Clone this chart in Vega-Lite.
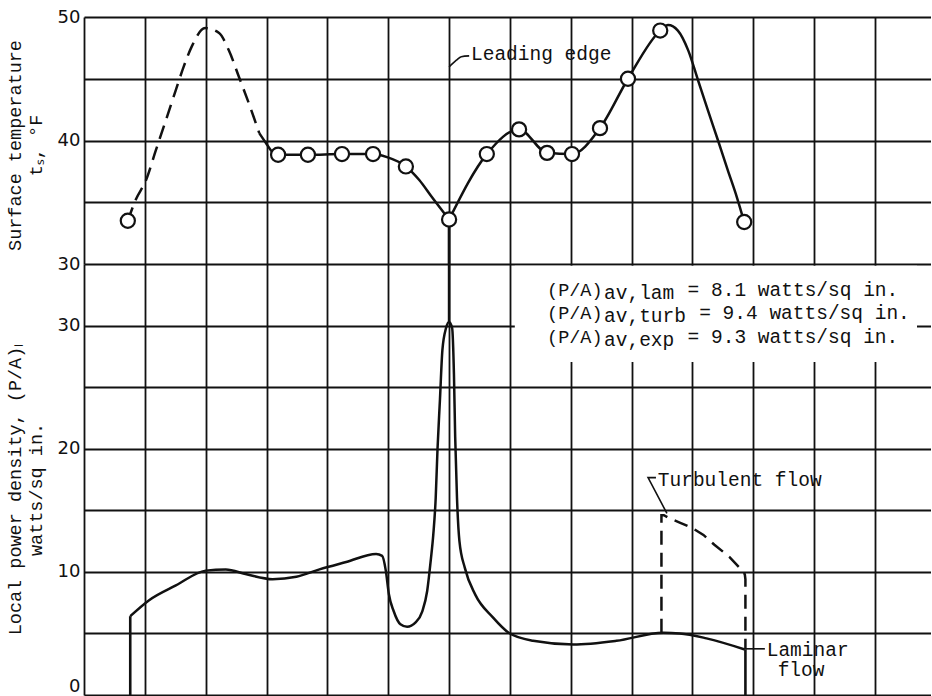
{
  "$schema": "https://vega.github.io/schema/vega-lite/v6.json",
  "background": "white",
  "padding": {"left": 5, "top": 8, "right": 0, "bottom": 1},
  "spacing": 0,
  "bounds": "flush",
  "config": {
    "view": {"stroke": null},
    "axis": {
      "gridColor": "#111",
      "gridWidth": 1.8,
      "gridOpacity": 1,
      "domain": false,
      "ticks": false,
      "labelFont": "DejaVu Sans",
      "labelFontSize": 18,
      "labelColor": "#111",
      "labelPadding": 4,
      "titleFont": "Liberation Mono",
      "titleFontSize": 18.5,
      "titleFontWeight": "normal",
      "titleColor": "#111",
      "titleLineHeight": 21,
      "titlePadding": 12
    },
    "text": {"font": "Liberation Mono", "fontSize": 19.5, "color": "#111"}
  },
  "datasets": {
    "tempDashed": [
      {"x": 0.72, "t": 33.5}, {"x": 0.85, "t": 35.2}, {"x": 1.02, "t": 36.8}, {"x": 1.18, "t": 39.2},
      {"x": 1.35, "t": 41.7}, {"x": 1.51, "t": 44.1}, {"x": 1.64, "t": 46.0}, {"x": 1.77, "t": 47.6},
      {"x": 1.99, "t": 49.1}, {"x": 2.22, "t": 48.7}, {"x": 2.38, "t": 47.3}, {"x": 2.55, "t": 45.1},
      {"x": 2.71, "t": 43.0}, {"x": 2.88, "t": 40.6}
    ],
    "tempSolid": [
      {"s": "a", "x": 2.88, "t": 40.6}, {"s": "a", "x": 2.99, "t": 39.8}, {"s": "a", "x": 3.09, "t": 39.1},
      {"s": "a", "x": 3.19, "t": 38.85}, {"s": "a", "x": 3.68, "t": 38.85}, {"s": "a", "x": 4.24, "t": 38.9},
      {"s": "a", "x": 4.75, "t": 38.9}, {"s": "a", "x": 4.98, "t": 38.65}, {"s": "a", "x": 5.29, "t": 37.9},
      {"s": "a", "x": 5.51, "t": 36.8}, {"s": "a", "x": 5.72, "t": 35.4}, {"s": "a", "x": 6.0, "t": 33.6},
      {"s": "b", "x": 6.0, "t": 33.6}, {"s": "b", "x": 6.62, "t": 38.9}, {"s": "b", "x": 7.15, "t": 40.9},
      {"s": "b", "x": 7.61, "t": 39.0}, {"s": "b", "x": 8.02, "t": 38.9}, {"s": "b", "x": 8.48, "t": 41.0},
      {"s": "b", "x": 8.94, "t": 45.0}, {"s": "b", "x": 9.47, "t": 48.9}, {"s": "b", "x": 9.6, "t": 49.35},
      {"s": "b", "x": 9.76, "t": 48.9}, {"s": "b", "x": 9.93, "t": 47.3}, {"s": "b", "x": 10.09, "t": 44.9},
      {"s": "b", "x": 10.25, "t": 42.5}, {"s": "b", "x": 10.42, "t": 40.0}, {"s": "b", "x": 10.58, "t": 37.6},
      {"s": "b", "x": 10.73, "t": 35.4}, {"s": "b", "x": 10.85, "t": 33.4}
    ],
    "tempPoints": [
      {"x": 0.72, "t": 33.5}, {"x": 3.19, "t": 38.85}, {"x": 3.68, "t": 38.85}, {"x": 4.24, "t": 38.9},
      {"x": 4.75, "t": 38.9}, {"x": 5.29, "t": 37.9}, {"x": 6.0, "t": 33.6}, {"x": 6.62, "t": 38.9},
      {"x": 7.15, "t": 40.9}, {"x": 7.61, "t": 39.0}, {"x": 8.02, "t": 38.9}, {"x": 8.48, "t": 41.0},
      {"x": 8.94, "t": 45.0}, {"x": 9.47, "t": 48.9}, {"x": 10.85, "t": 33.4}
    ],
    "topRule": [{"x": 6.0, "t": 30, "t2": 33.0}],
    "topLeader": [
      {"i": 1, "x": 6.0, "t": 45.95}, {"i": 2, "x": 6.12, "t": 46.5}, {"i": 3, "x": 6.2, "t": 46.78}, {"i": 4, "x": 6.33, "t": 46.85}
    ],
    "topLabels": [{"x": 6.36, "t": 47.0, "text": "Leading edge"}],
    "laminar": [
      {"x": 0.76, "p": 6.4}, {"x": 1.07, "p": 7.7}, {"x": 1.51, "p": 8.9}, {"x": 2.0, "p": 10.1},
      {"x": 2.33, "p": 10.2}, {"x": 2.67, "p": 9.8}, {"x": 3.1, "p": 9.4}, {"x": 3.49, "p": 9.6},
      {"x": 3.87, "p": 10.2}, {"x": 4.31, "p": 10.8}, {"x": 4.8, "p": 11.45}, {"x": 4.9, "p": 11.3},
      {"x": 4.96, "p": 10.1}, {"x": 5.01, "p": 8.2}, {"x": 5.09, "p": 6.8}, {"x": 5.2, "p": 5.75},
      {"x": 5.31, "p": 5.55}, {"x": 5.45, "p": 5.9}, {"x": 5.56, "p": 6.8}, {"x": 5.64, "p": 8.45},
      {"x": 5.7, "p": 11}, {"x": 5.74, "p": 13}, {"x": 5.78, "p": 16}, {"x": 5.81, "p": 20},
      {"x": 5.85, "p": 24}, {"x": 5.89, "p": 28}, {"x": 5.95, "p": 29.8}, {"x": 6.0, "p": 30.3},
      {"x": 6.05, "p": 29.8}, {"x": 6.08, "p": 26}, {"x": 6.1, "p": 21}, {"x": 6.13, "p": 16},
      {"x": 6.17, "p": 12.5}, {"x": 6.26, "p": 10.3}, {"x": 6.43, "p": 8.15}, {"x": 6.72, "p": 6.3},
      {"x": 6.98, "p": 5.05}, {"x": 7.38, "p": 4.4}, {"x": 8.04, "p": 4.1}, {"x": 8.75, "p": 4.4},
      {"x": 9.52, "p": 5.05}, {"x": 9.79, "p": 5.0}, {"x": 10.23, "p": 4.6}, {"x": 10.86, "p": 3.7}
    ],
    "turbulent": [
      {"i": 1, "x": 9.49, "p": 5.05}, {"i": 2, "x": 9.49, "p": 14.6}, {"i": 3, "x": 9.53, "p": 14.6},
      {"i": 4, "x": 9.6, "p": 14.4}, {"i": 5, "x": 9.79, "p": 14.0}, {"i": 6, "x": 10.0, "p": 13.55},
      {"i": 7, "x": 10.18, "p": 13.0}, {"i": 8, "x": 10.36, "p": 12.2}, {"i": 9, "x": 10.61, "p": 11.2},
      {"i": 10, "x": 10.78, "p": 10.3}, {"i": 11, "x": 10.86, "p": 9.8}, {"i": 12, "x": 10.87, "p": 9.4},
      {"i": 13, "x": 10.87, "p": 3.7}
    ],
    "bottomRules": [
      {"x": 0.76, "p": 0, "p2": 6.4}, {"x": 10.87, "p": 0, "p2": 3.7}, {"x": 6.0, "p": 30.3, "p2": 35}
    ],
    "mask": [{"x": 7.08, "x2": 13.69, "p": 27.05, "p2": 34.85}],
    "averages": [
      {"x": 7.61, "xr": 9.92, "p": 32.44, "lead": "(P/A)", "sub": "av,lam", "rest": "= 8.1 watts/sq in."},
      {"x": 7.61, "xr": 10.11, "p": 30.52, "lead": "(P/A)", "sub": "av,turb", "rest": "= 9.4 watts/sq in."},
      {"x": 7.61, "xr": 9.92, "p": 28.6, "lead": "(P/A)", "sub": "av,exp", "rest": "= 9.3 watts/sq in."}
    ],
    "bottomLeaders": [
      {"g": "t", "i": 1, "x": 9.4, "p": 17.65}, {"g": "t", "i": 2, "x": 9.27, "p": 17.65}, {"g": "t", "i": 3, "x": 9.58, "p": 14.75},
      {"g": "l", "i": 1, "x": 10.87, "p": 3.75}, {"g": "l", "i": 2, "x": 11.19, "p": 3.75}
    ],
    "bottomLabels": [
      {"x": 9.43, "p": 17.5, "text": "Turbulent flow"},
      {"x": 11.22, "p": 3.67, "text": "Laminar"},
      {"x": 11.4, "p": 2.04, "text": "flow"}
    ]
  },
  "vconcat": [
    {
      "width": 847,
      "height": 247,
      "encoding": {
        "x": {
          "field": "x", "type": "quantitative",
          "scale": {"domain": [0, 13.92], "nice": false, "zero": false},
          "axis": {"values": [0, 1, 2, 3, 4, 5, 6, 7, 8, 9, 10, 11, 12, 13], "labels": false, "title": null, "grid": true}
        },
        "y": {
          "field": "t", "type": "quantitative",
          "scale": {"domain": [30, 50], "nice": false, "zero": false},
          "axis": {
            "values": [30, 35, 40, 45, 50],
            "labelExpr": "datum.value % 10 === 0 ? datum.label : ''",
            "title": ["Surface temperature", "tₛ, °F"],
            "titleY": 128
          }
        }
      },
      "layer": [
        {
          "data": {"name": "tempDashed"},
          "mark": {"type": "line", "interpolate": "monotone", "strokeDash": [14, 8], "strokeWidth": 2.5, "color": "#111"}
        },
        {
          "data": {"name": "tempSolid"},
          "mark": {"type": "line", "interpolate": "monotone", "strokeWidth": 2.5, "color": "#111"},
          "encoding": {"detail": {"field": "s"}}
        },
        {
          "data": {"name": "topRule"},
          "mark": {"type": "rule", "strokeWidth": 2.8, "color": "#111"},
          "encoding": {"y2": {"field": "t2"}}
        },
        {
          "data": {"name": "topLeader"},
          "mark": {"type": "line", "interpolate": "monotone", "strokeWidth": 1.6, "color": "#111"},
          "encoding": {"order": {"field": "i"}}
        },
        {
          "data": {"name": "tempPoints"},
          "mark": {"type": "point", "shape": "circle", "filled": true, "fill": "white", "stroke": "#111", "strokeWidth": 2.2, "size": 200, "opacity": 1, "fillOpacity": 1}
        },
        {
          "data": {"name": "topLabels"},
          "mark": {"type": "text", "align": "left", "baseline": "middle"},
          "encoding": {"text": {"field": "text"}}
        }
      ]
    },
    {
      "width": 847,
      "height": 431,
      "encoding": {
        "x": {
          "field": "x", "type": "quantitative",
          "scale": {"domain": [0, 13.92], "nice": false, "zero": false},
          "axis": {"values": [0, 1, 2, 3, 4, 5, 6, 7, 8, 9, 10, 11, 12, 13], "labels": false, "title": null, "grid": true}
        },
        "y": {
          "field": "p", "type": "quantitative",
          "scale": {"domain": [0, 35], "nice": false, "zero": false},
          "axis": {
            "values": [0, 5, 10, 15, 20, 25, 30],
            "labelExpr": "datum.value % 10 === 0 ? datum.label : ''",
            "labelBaseline": {"condition": {"test": "datum.value === 0", "value": "bottom"}, "value": "middle"},
            "title": ["Local power density, (P/A)ₗ", "watts/sq in."],
            "titleY": 225
          }
        }
      },
      "layer": [
        {
          "data": {"name": "mask"},
          "mark": {"type": "rect", "fill": "white", "stroke": null},
          "encoding": {"x2": {"field": "x2"}, "y2": {"field": "p2"}}
        },
        {
          "data": {"name": "averages"},
          "mark": {"type": "text", "align": "left", "baseline": "alphabetic", "fontSize": 18.5},
          "encoding": {"text": {"field": "lead"}}
        },
        {
          "data": {"name": "averages"},
          "mark": {"type": "text", "align": "left", "baseline": "alphabetic", "dx": 57, "dy": 3},
          "encoding": {"text": {"field": "sub"}}
        },
        {
          "data": {"name": "averages"},
          "mark": {"type": "text", "align": "left", "baseline": "alphabetic"},
          "encoding": {"x": {"field": "xr", "type": "quantitative"}, "text": {"field": "rest"}}
        },
        {
          "data": {"name": "laminar"},
          "mark": {"type": "line", "interpolate": "monotone", "strokeWidth": 2.5, "color": "#111"}
        },
        {
          "data": {"name": "turbulent"},
          "mark": {"type": "line", "interpolate": "linear", "strokeDash": [14, 8], "strokeWidth": 2.5, "color": "#111"},
          "encoding": {"order": {"field": "i"}}
        },
        {
          "data": {"name": "bottomRules"},
          "mark": {"type": "rule", "strokeWidth": 2.6, "color": "#111"},
          "encoding": {"y2": {"field": "p2"}}
        },
        {
          "data": {"name": "bottomLeaders"},
          "mark": {"type": "line", "interpolate": "linear", "strokeWidth": 1.6, "color": "#111"},
          "encoding": {"detail": {"field": "g"}, "order": {"field": "i"}}
        },
        {
          "data": {"name": "bottomLabels"},
          "mark": {"type": "text", "align": "left", "baseline": "middle"},
          "encoding": {"text": {"field": "text"}}
        }
      ]
    }
  ]
}
